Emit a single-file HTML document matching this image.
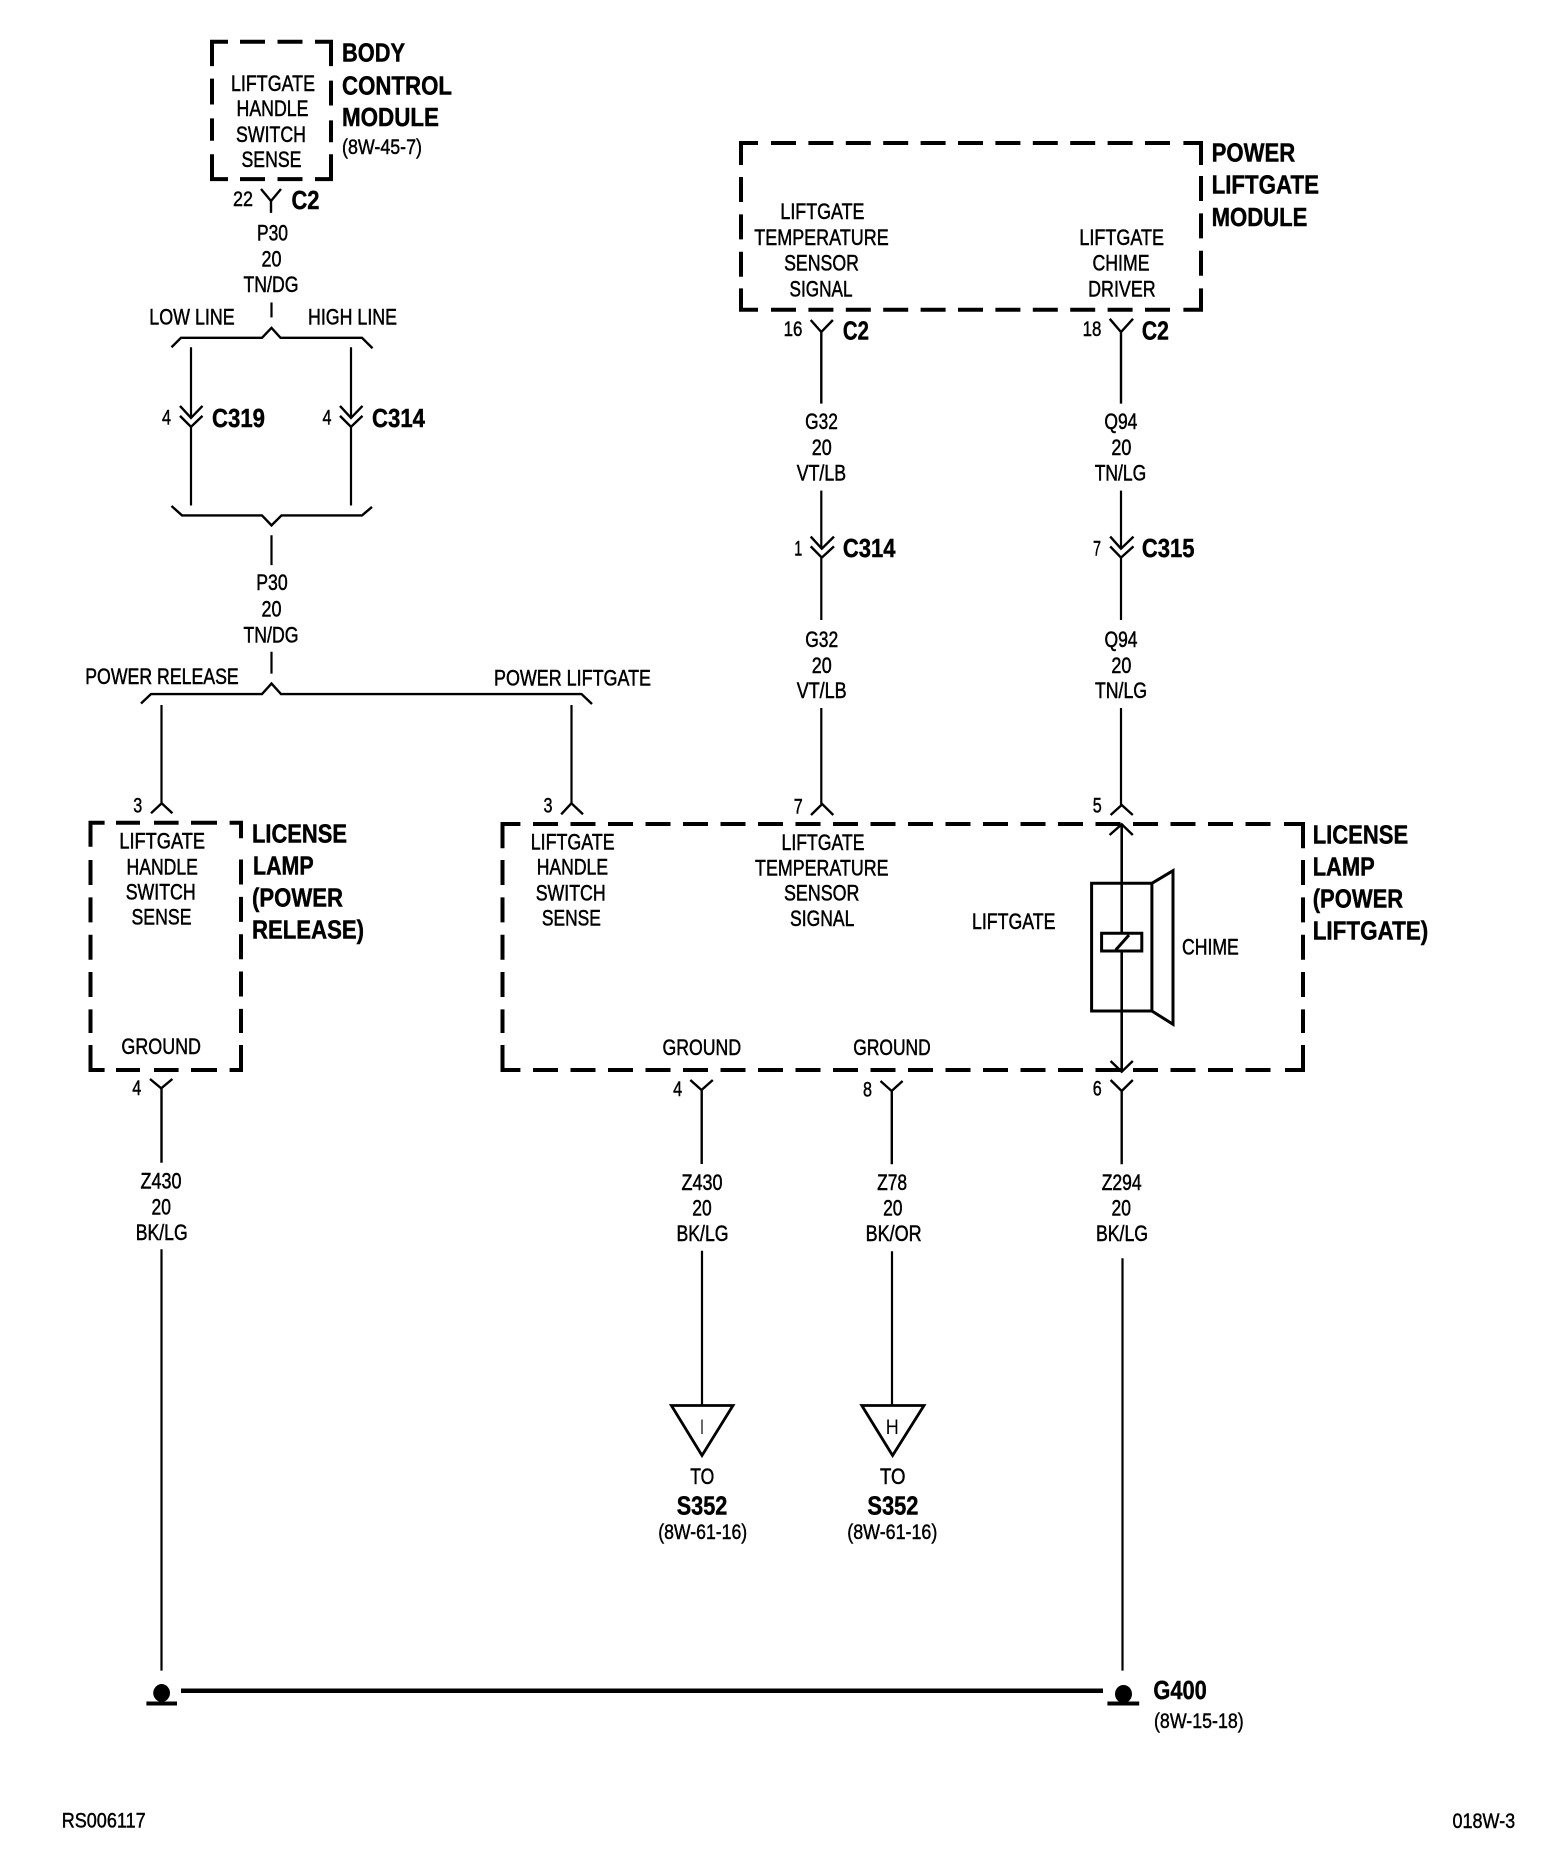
<!DOCTYPE html>
<html><head><meta charset="utf-8"><style>
html,body{margin:0;padding:0;background:#fff}
svg{display:block}
text{font-family:"Liberation Sans",sans-serif;fill:#000}
.n{font-size:22.5px;text-anchor:middle;stroke:#000;stroke-width:.5}
.s{font-size:21px;text-anchor:middle;stroke:#000;stroke-width:.45}
.b{font-size:26px;font-weight:700;stroke:#000;stroke-width:.45}
.r{font-size:21px;stroke:#000;stroke-width:.45}
.w{fill:none;stroke:#000;stroke-width:2.2}
.c{fill:none;stroke:#000;stroke-width:2.4}
.x{fill:none;stroke:#000;stroke-width:4}
.h{stroke-dasharray:25 12.5}
.v{stroke-dasharray:25 12.35}
</style></head><body>
<svg width="1568" height="1876" viewBox="0 0 1568 1876" xmlns="http://www.w3.org/2000/svg">
<rect width="1568" height="1876" fill="#fff"/>

<g transform="translate(0,-1) scale(1,0.995)">
<!-- Body control module box -->
<path class="x" d="M228 43H212V67.5M240 43H265M277.5 43H302.5M315 43H331V67.5M212 80V106M212 120V142.5M212 156V181H228M240 181H265M277.5 181H302.5M315 181H331V156M331 82V107M331 122V144"/>
<text class="n" x="273" y="92.5" textLength="84" lengthAdjust="spacingAndGlyphs">LIFTGATE</text>
<text class="n" x="272.5" y="117.5" textLength="72" lengthAdjust="spacingAndGlyphs">HANDLE</text>
<text class="n" x="271" y="143.5" textLength="70" lengthAdjust="spacingAndGlyphs">SWITCH</text>
<text class="n" x="271.5" y="169" textLength="60" lengthAdjust="spacingAndGlyphs">SENSE</text>
<text class="b" x="342" y="63" textLength="63" lengthAdjust="spacingAndGlyphs">BODY</text>
<text class="b" x="342" y="96" textLength="110" lengthAdjust="spacingAndGlyphs">CONTROL</text>
<text class="b" x="342" y="127.5" textLength="97" lengthAdjust="spacingAndGlyphs">MODULE</text>
<text class="r" x="342" y="156" textLength="80" lengthAdjust="spacingAndGlyphs">(8W-45-7)</text>
<text class="s" x="243" y="208" textLength="20" lengthAdjust="spacingAndGlyphs">22</text>
<path class="c" d="M261 191L271 203L281 191M271 203V215"/>
<text class="b" x="291.5" y="211" textLength="28" lengthAdjust="spacingAndGlyphs">C2</text>
<text class="n" x="272.5" y="242.5" textLength="31" lengthAdjust="spacingAndGlyphs">P30</text>
<text class="n" x="271.5" y="269" textLength="20" lengthAdjust="spacingAndGlyphs">20</text>
<text class="n" x="271" y="294.5" textLength="55" lengthAdjust="spacingAndGlyphs">TN/DG</text>
<path class="w" d="M271.5 305V320"/>
<text class="n" x="192" y="327" textLength="85.5" lengthAdjust="spacingAndGlyphs">LOW LINE</text>
<text class="n" x="352.5" y="327" textLength="89" lengthAdjust="spacingAndGlyphs">HIGH LINE</text>
<path class="c" d="M171.5 350L181 340.5H262L271.5 330.5L280.5 340.5H362L372.5 351"/>
<path class="w" d="M191 350V421M191 430V509M351 350V421M351 430V509"/>
<path class="c" d="M180 409L191 421L202.5 409M180 419L191 430L202.5 419M340 409L351 421L362.5 409M340 419L351 430L362.5 419"/>
<text class="s" x="166.5" y="427.5" textLength="9" lengthAdjust="spacingAndGlyphs">4</text>
<text class="b" x="212" y="430" textLength="53" lengthAdjust="spacingAndGlyphs">C319</text>
<text class="s" x="327" y="427.5" textLength="9" lengthAdjust="spacingAndGlyphs">4</text>
<text class="b" x="372" y="430" textLength="53" lengthAdjust="spacingAndGlyphs">C314</text>
<path class="c" d="M171.5 509.5L182 519H262L271.5 529L281.5 519H362L372 510.5"/>
<path class="w" d="M271.5 539V569M271.5 656V678"/>
<text class="n" x="272" y="594" textLength="31.5" lengthAdjust="spacingAndGlyphs">P30</text>
<text class="n" x="271.5" y="620.5" textLength="20" lengthAdjust="spacingAndGlyphs">20</text>
<text class="n" x="271" y="646.5" textLength="55" lengthAdjust="spacingAndGlyphs">TN/DG</text>
<text class="n" x="162" y="688.5" textLength="153.5" lengthAdjust="spacingAndGlyphs">POWER RELEASE</text>
<text class="n" x="572.5" y="690" textLength="157" lengthAdjust="spacingAndGlyphs">POWER LIFTGATE</text>
<path class="c" d="M141 708L151 698.5H262L271.5 688L281 698.5H581.5L592 708.5"/>
</g>
<path class="w" d="M161.5 705V803M571.5 705V803"/>

<!-- License lamp (power release) box -->
<path class="c" d="M151 813.3L161.7 803.3L172.4 813.3"/>
<text class="s" x="137.8" y="812.3" textLength="9" lengthAdjust="spacingAndGlyphs">3</text>
<path class="x" d="M104.6 822.7H90.5V846.7M229.6 822.7H241V838.3M90.5 1045V1070H104.6M229.6 1070H241V1045"/>
<path class="x" d="M116 822.7H140M154 822.7H178.6M191 822.7H217M116 1070H140M154 1070H178.6M191 1070H217"/>
<path class="x v" d="M90.5 860V1033"/>
<path class="x v" d="M241 859.5V1033"/>
<text class="n" x="162.2" y="848.3" textLength="85.7" lengthAdjust="spacingAndGlyphs">LIFTGATE</text>
<text class="n" x="162.2" y="874.3" textLength="71.4" lengthAdjust="spacingAndGlyphs">HANDLE</text>
<text class="n" x="160.7" y="899.3" textLength="70" lengthAdjust="spacingAndGlyphs">SWITCH</text>
<text class="n" x="161.5" y="924.7" textLength="60" lengthAdjust="spacingAndGlyphs">SENSE</text>
<text class="n" x="161.2" y="1054" textLength="79.6" lengthAdjust="spacingAndGlyphs">GROUND</text>
<text class="b" x="252" y="842.7" textLength="95" lengthAdjust="spacingAndGlyphs">LICENSE</text>
<text class="b" x="253" y="874.7" textLength="60.7" lengthAdjust="spacingAndGlyphs">LAMP</text>
<text class="b" x="252" y="906.3" textLength="91" lengthAdjust="spacingAndGlyphs">(POWER</text>
<text class="b" x="252" y="938.7" textLength="112" lengthAdjust="spacingAndGlyphs">RELEASE)</text>
<text class="s" x="136.7" y="1095" textLength="9" lengthAdjust="spacingAndGlyphs">4</text>
<path class="c" d="M150 1079L161.2 1088.3L172.4 1079M161.5 1088.3V1162.7"/>
<text class="n" x="161" y="1188.3" textLength="41" lengthAdjust="spacingAndGlyphs">Z430</text>
<text class="n" x="161.2" y="1214.3" textLength="19.4" lengthAdjust="spacingAndGlyphs">20</text>
<text class="n" x="161.7" y="1240" textLength="52" lengthAdjust="spacingAndGlyphs">BK/LG</text>
<path class="w" d="M161.5 1249.3V1670.6"/>

<!-- License lamp (power liftgate) box -->
<path class="c" d="M561.2 814.3L571.4 803.3L583 814.3M811 815L822.2 804L833.3 815M1110.6 815L1121.7 805L1132.8 815"/>
<text class="s" x="548" y="812.5" textLength="9" lengthAdjust="spacingAndGlyphs">3</text>
<text class="s" x="798.3" y="813.3" textLength="9" lengthAdjust="spacingAndGlyphs">7</text>
<text class="s" x="1097.3" y="812.7" textLength="9" lengthAdjust="spacingAndGlyphs">5</text>
<path class="x" d="M520.4 824H502.5V848.3M1284 824H1303V848.3M502.5 1045V1070H520.4M1285 1070H1303V1045"/>
<path class="x h" d="M533 824H1272"/>
<path class="x h" d="M533 1070H1272"/>
<path class="x v" d="M502.5 860V1033"/>
<path class="x v" d="M1303 860V1033"/>
<text class="n" x="572.7" y="849.3" textLength="84" lengthAdjust="spacingAndGlyphs">LIFTGATE</text>
<text class="n" x="572.4" y="874.7" textLength="71.4" lengthAdjust="spacingAndGlyphs">HANDLE</text>
<text class="n" x="570.7" y="900.3" textLength="70" lengthAdjust="spacingAndGlyphs">SWITCH</text>
<text class="n" x="571.4" y="925.7" textLength="59" lengthAdjust="spacingAndGlyphs">SENSE</text>
<text class="n" x="823" y="850" textLength="83" lengthAdjust="spacingAndGlyphs">LIFTGATE</text>
<text class="n" x="821.8" y="875.3" textLength="133.5" lengthAdjust="spacingAndGlyphs">TEMPERATURE</text>
<text class="n" x="821.7" y="900.3" textLength="75.4" lengthAdjust="spacingAndGlyphs">SENSOR</text>
<text class="n" x="822.2" y="926" textLength="64.3" lengthAdjust="spacingAndGlyphs">SIGNAL</text>
<text class="n" x="1013.7" y="929" textLength="83.4" lengthAdjust="spacingAndGlyphs">LIFTGATE</text>
<text class="n" x="1210.4" y="954.3" textLength="56.8" lengthAdjust="spacingAndGlyphs">CHIME</text>
<text class="n" x="701.8" y="1055" textLength="78.6" lengthAdjust="spacingAndGlyphs">GROUND</text>
<text class="n" x="892" y="1055" textLength="77.4" lengthAdjust="spacingAndGlyphs">GROUND</text>
<text class="b" x="1312.7" y="843.3" textLength="95.5" lengthAdjust="spacingAndGlyphs">LICENSE</text>
<text class="b" x="1312.7" y="875.3" textLength="62" lengthAdjust="spacingAndGlyphs">LAMP</text>
<text class="b" x="1312.7" y="907.3" textLength="90.5" lengthAdjust="spacingAndGlyphs">(POWER</text>
<text class="b" x="1312.7" y="939.3" textLength="115.6" lengthAdjust="spacingAndGlyphs">LIFTGATE)</text>

<!-- Chime -->
<path class="w" style="stroke-width:2.6" d="M1121.7 825V933.3M1121.7 951V1071"/>
<path class="c" d="M1109.6 835L1121.7 824.3L1132.8 835M1110.6 1061L1121.7 1071.7L1132.8 1061"/>
<path class="c" style="stroke-width:3" d="M1091.6 883.3H1151.9V1011H1091.6ZM1151.9 883.3L1173 870.7V1024.3L1151.9 1011M1101.6 933.3H1141.8V951H1101.6ZM1115.7 950L1129 935"/>

<!-- Lower connectors -->
<text class="s" x="677.6" y="1096" textLength="9" lengthAdjust="spacingAndGlyphs">4</text>
<path class="c" d="M690.3 1080L701.5 1090L712.8 1080M701.7 1090V1164"/>
<text class="n" x="702" y="1190" textLength="41" lengthAdjust="spacingAndGlyphs">Z430</text>
<text class="n" x="702" y="1215.3" textLength="19.4" lengthAdjust="spacingAndGlyphs">20</text>
<text class="n" x="702.5" y="1241" textLength="52" lengthAdjust="spacingAndGlyphs">BK/LG</text>
<path class="w" d="M702 1250.7V1405"/>
<text class="s" x="867.5" y="1096.7" textLength="9" lengthAdjust="spacingAndGlyphs">8</text>
<path class="c" d="M880.5 1081L891.6 1091L902.6 1081M891.8 1091V1164.3"/>
<text class="n" x="892.1" y="1190" textLength="30" lengthAdjust="spacingAndGlyphs">Z78</text>
<text class="n" x="892.8" y="1215.7" textLength="19.4" lengthAdjust="spacingAndGlyphs">20</text>
<text class="n" x="893.6" y="1241" textLength="56" lengthAdjust="spacingAndGlyphs">BK/OR</text>
<path class="w" d="M892 1251.3V1405"/>
<text class="s" x="1097.3" y="1095.7" textLength="9" lengthAdjust="spacingAndGlyphs">6</text>
<path class="c" d="M1110.6 1080L1121.7 1091L1132.8 1080M1121.7 1091V1164.3"/>
<text class="n" x="1121.7" y="1190" textLength="40" lengthAdjust="spacingAndGlyphs">Z294</text>
<text class="n" x="1121.2" y="1215.7" textLength="19.4" lengthAdjust="spacingAndGlyphs">20</text>
<text class="n" x="1122" y="1241" textLength="52" lengthAdjust="spacingAndGlyphs">BK/LG</text>
<path class="w" d="M1122.5 1258.3V1670.6"/>

<!-- Off-page triangles -->
<path class="c" style="stroke-width:2.8" d="M671.4 1405.5H733L702 1455.5Z"/>
<text x="702" y="1434" font-size="21" text-anchor="middle" textLength="3.5" lengthAdjust="spacingAndGlyphs">I</text>
<text class="n" x="702.3" y="1483.8" textLength="24" lengthAdjust="spacingAndGlyphs">TO</text>
<text class="b" x="702" y="1514.3" style="text-anchor:middle" textLength="50.5" lengthAdjust="spacingAndGlyphs">S352</text>
<text class="s" x="702.7" y="1539" textLength="89" lengthAdjust="spacingAndGlyphs">(8W-61-16)</text>
<path class="c" style="stroke-width:2.8" d="M861.8 1405.5H924L892.6 1455.5Z"/>
<text x="892.3" y="1434" font-size="21" text-anchor="middle" textLength="13" lengthAdjust="spacingAndGlyphs">H</text>
<text class="n" x="892.7" y="1483.8" textLength="25.5" lengthAdjust="spacingAndGlyphs">TO</text>
<text class="b" x="892.9" y="1514.3" style="text-anchor:middle" textLength="51" lengthAdjust="spacingAndGlyphs">S352</text>
<text class="s" x="892.3" y="1539" textLength="90" lengthAdjust="spacingAndGlyphs">(8W-61-16)</text>

<!-- Grounds -->
<path d="M161.7 1684C166 1684 170 1688 170 1693C170 1698 166 1702 161.7 1702C157.4 1702 153.2 1698 153.2 1693C153.2 1688 157.4 1684 161.7 1684Z" fill="#000"/>
<rect x="146.4" y="1701.5" width="30.6" height="4" fill="#000"/>
<path d="M181 1690.8H1103" fill="none" stroke="#000" stroke-width="4.5"/>
<ellipse cx="1123.5" cy="1694" rx="8.5" ry="9" fill="#000"/>
<rect x="1107.4" y="1701.5" width="31.8" height="4" fill="#000"/>
<text class="b" x="1153.4" y="1699" textLength="53.4" lengthAdjust="spacingAndGlyphs">G400</text>
<text class="r" x="1154" y="1728" textLength="89.7" lengthAdjust="spacingAndGlyphs">(8W-15-18)</text>
<text class="r" x="61.7" y="1827.6" textLength="84" lengthAdjust="spacingAndGlyphs">RS006117</text>
<text class="r" x="1452.5" y="1828" textLength="62.7" lengthAdjust="spacingAndGlyphs">018W-3</text>

<!-- Power liftgate module -->
<path class="x" d="M758 143H741V165M1183.4 143H1201V165M741 288.4V309.8H758M1183.4 309.8H1201V288.4"/>
<path class="x" style="stroke-dasharray:25 12.4" d="M771 143H1171"/>
<path class="x" style="stroke-dasharray:25 12.4" d="M771 309.8H1171"/>
<path class="x v" d="M741 177V277"/>
<path class="x v" d="M1201 176V277"/>
<text class="n" x="822.4" y="219" textLength="84" lengthAdjust="spacingAndGlyphs">LIFTGATE</text>
<text class="n" x="821.5" y="245" textLength="134.5" lengthAdjust="spacingAndGlyphs">TEMPERATURE</text>
<text class="n" x="821.5" y="270.5" textLength="74.8" lengthAdjust="spacingAndGlyphs">SENSOR</text>
<text class="n" x="821" y="296.4" textLength="63" lengthAdjust="spacingAndGlyphs">SIGNAL</text>
<text class="n" x="1121.7" y="245" textLength="84.7" lengthAdjust="spacingAndGlyphs">LIFTGATE</text>
<text class="n" x="1121" y="270.5" textLength="57" lengthAdjust="spacingAndGlyphs">CHIME</text>
<text class="n" x="1121.9" y="296.4" textLength="67.5" lengthAdjust="spacingAndGlyphs">DRIVER</text>
<text class="b" x="1211.6" y="161.5" textLength="83.6" lengthAdjust="spacingAndGlyphs">POWER</text>
<text class="b" x="1211.6" y="193.7" textLength="107.4" lengthAdjust="spacingAndGlyphs">LIFTGATE</text>
<text class="b" x="1211.6" y="225.8" textLength="95.8" lengthAdjust="spacingAndGlyphs">MODULE</text>
<text class="s" x="793" y="336" textLength="18.8" lengthAdjust="spacingAndGlyphs">16</text>
<path class="c" d="M810.7 320L821.3 332L832.9 320M821.3 332V403.6"/>
<text class="b" x="842.9" y="339.5" textLength="26" lengthAdjust="spacingAndGlyphs">C2</text>
<text class="s" x="1092" y="336" textLength="18.8" lengthAdjust="spacingAndGlyphs">18</text>
<path class="c" d="M1109.7 318.8L1121 332L1133 318.8M1121 332V403.6"/>
<text class="b" x="1141.9" y="339.5" textLength="27" lengthAdjust="spacingAndGlyphs">C2</text>
<text class="n" x="821.5" y="429" textLength="32.7" lengthAdjust="spacingAndGlyphs">G32</text>
<text class="n" x="821.8" y="455" textLength="20" lengthAdjust="spacingAndGlyphs">20</text>
<text class="n" x="821.4" y="480.5" textLength="49.3" lengthAdjust="spacingAndGlyphs">VT/LB</text>
<text class="n" x="1120.9" y="429" textLength="33" lengthAdjust="spacingAndGlyphs">Q94</text>
<text class="n" x="1121.4" y="455" textLength="20" lengthAdjust="spacingAndGlyphs">20</text>
<text class="n" x="1120.5" y="480.5" textLength="51.5" lengthAdjust="spacingAndGlyphs">TN/LG</text>
<path class="w" d="M821.3 490.6V548.7M821.3 557.6V620M821.3 708V804M1121 490.6V548.7M1121 557.6V620M1121 708V805"/>
<path class="c" d="M810.7 536.6L821.8 548.7L834 536.6M810.7 546.4L821.8 557.6L834 546.4M1110.2 536.6L1121 548.7L1133.5 536.6M1110.2 546.4L1121 557.6L1133.5 546.4"/>
<text class="s" x="798.3" y="555.4" textLength="8" lengthAdjust="spacingAndGlyphs">1</text>
<text class="b" x="842.9" y="557" textLength="52.6" lengthAdjust="spacingAndGlyphs">C314</text>
<text class="s" x="1097" y="555.4" textLength="8" lengthAdjust="spacingAndGlyphs">7</text>
<text class="b" x="1141.9" y="557" textLength="52.6" lengthAdjust="spacingAndGlyphs">C315</text>
<text class="n" x="821.7" y="646.9" textLength="33" lengthAdjust="spacingAndGlyphs">G32</text>
<text class="n" x="821.7" y="672.8" textLength="20" lengthAdjust="spacingAndGlyphs">20</text>
<text class="n" x="821.7" y="698.2" textLength="50" lengthAdjust="spacingAndGlyphs">VT/LB</text>
<text class="n" x="1121" y="646.9" textLength="33" lengthAdjust="spacingAndGlyphs">Q94</text>
<text class="n" x="1121.4" y="672.8" textLength="20" lengthAdjust="spacingAndGlyphs">20</text>
<text class="n" x="1121" y="698.2" textLength="52" lengthAdjust="spacingAndGlyphs">TN/LG</text>
</svg>
</body></html>
